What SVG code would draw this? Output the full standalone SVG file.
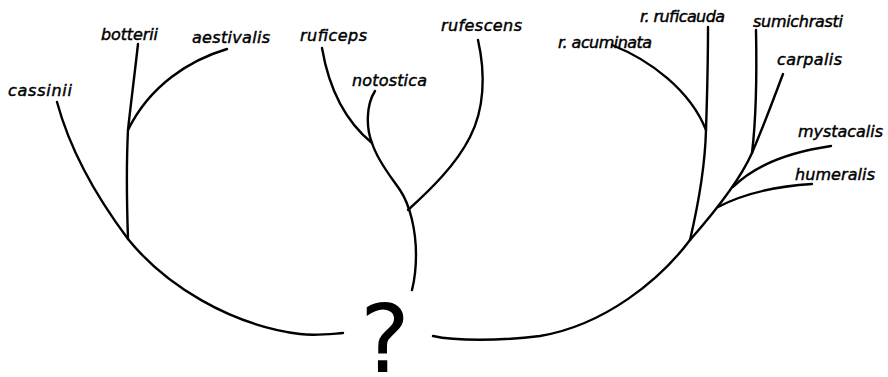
<svg xmlns="http://www.w3.org/2000/svg" width="888" height="377" viewBox="0 0 888 377">
<style>
.br{fill:none;stroke:#000;stroke-width:2.4;stroke-linecap:round;stroke-linejoin:round}
.lb{font-family:"DejaVu Sans","Liberation Sans",sans-serif;font-style:italic;font-size:16px;fill:#000;stroke:#000;stroke-width:0.45}
.q{font-family:"DejaVu Sans","Liberation Sans",sans-serif;font-size:94px;fill:#000;text-anchor:middle}
</style>
<rect width="888" height="377" fill="#fff"/>
<g id="connectors">
<path class="br" d="M57,102 C70,150 95,195 128,239 C165,285 230,325 300,334 C315,336 330,334 343,333"/>
<path class="br" d="M138,44 C134,80 130,110 128,130 C126,170 127,210 128,239"/>
<path class="br" d="M128,130 C150,85 190,60 227,49"/>
<path class="br" d="M322,48 C330,95 350,125 372,143"/>
<path class="br" d="M375,91 C366,105 366,128 372,143 C378,162 392,178 400,190 C410,205 416,230 416,255 C416,272 414,282 412,290"/>
<path class="br" d="M478,40 C486,75 484,110 470,137 C456,165 430,190 408,210"/>
<path class="br" d="M433,336 C455,341 500,341 540,336 C605,325 660,280 690,240"/>
<path class="br" d="M690,240 C712,215 740,180 752,153 C764,125 775,95 783,74"/>
<path class="br" d="M708,27 C708,70 707,100 706,130 C705,170 697,210 690,240"/>
<path class="br" d="M612,45 C650,60 690,90 706,130"/>
<path class="br" d="M756,30 C757,80 756,120 752,153"/>
<path class="br" d="M733,187 C755,165 790,152 831,146"/>
<path class="br" d="M718,207 C745,193 780,186 812,184"/>
</g>
<g id="root"><text class="q" x="385" y="372">?</text></g>
<g id="cassinii"><text class="lb" x="8" y="96" textLength="64">cassinii</text></g>
<g id="botterii"><text class="lb" x="101" y="40" textLength="57">botterii</text></g>
<g id="aestivalis"><text class="lb" x="192" y="43" textLength="78">aestivalis</text></g>
<g id="ruficeps"><text class="lb" x="300" y="41" textLength="67">ruficeps</text></g>
<g id="notostica"><text class="lb" x="352" y="86" textLength="75">notostica</text></g>
<g id="rufescens"><text class="lb" x="441" y="31" textLength="81">rufescens</text></g>
<g id="r-acuminata"><text class="lb" x="558" y="48" textLength="94">r. acuminata</text></g>
<g id="r-ruficauda"><text class="lb" x="640" y="22" textLength="85">r. ruficauda</text></g>
<g id="sumichrasti"><text class="lb" x="753" y="27" textLength="90">sumichrasti</text></g>
<g id="carpalis"><text class="lb" x="777" y="65" textLength="65">carpalis</text></g>
<g id="mystacalis"><text class="lb" x="798" y="137" textLength="85">mystacalis</text></g>
<g id="humeralis"><text class="lb" x="795" y="180" textLength="80">humeralis</text></g>
</svg>
